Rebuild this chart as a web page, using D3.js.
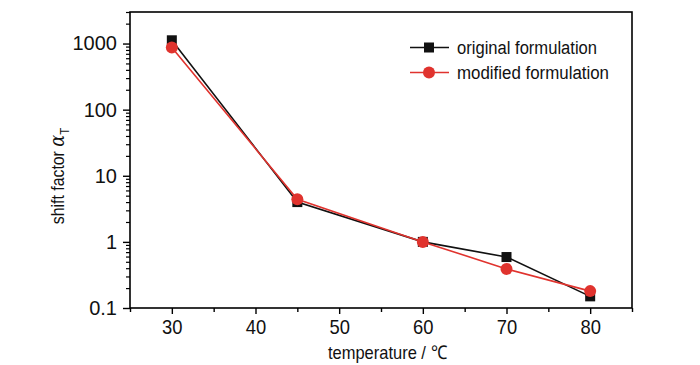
<!DOCTYPE html>
<html><head><meta charset="utf-8">
<script src="https://cdn.jsdelivr.net/npm/d3@7"></script>
<style>body{margin:0;background:#fff}svg{display:block;font-family:"Liberation Sans",Arial,sans-serif}</style>
</head><body><svg id="c" width="700" height="365"></svg>
<script>
const temperatures = [30, 45, 60, 70, 80];
const originalValues = [1120, 4.0, 1.0, 0.59, 0.15];
const modifiedValues = [870, 4.4, 1.0, 0.39, 0.18];
const xTicks = [30, 40, 50, 60, 70, 80];
const yTicks = [0.1, 1, 10, 100, 1000];
const seriesNames = ["original formulation", "modified formulation"];

const svg = d3.select("#c");
const L = 130, R = 632, T = 12, B = 308;
const x = d3.scaleLinear().domain([25, 85]).range([L, R]);
const y = d3.scaleLog().domain([0.1, 3000]).range([B, T]);
const RED = "#e0332e", BLK = "#111";

// frame
svg.append("rect").attr("x", L).attr("y", T).attr("width", R - L).attr("height", B - T)
  .attr("fill", "none").attr("stroke", "#000").attr("stroke-width", 1.6);

// x axis
const xMinor = d3.range(25, 86, 5).filter(v => !xTicks.includes(v));
svg.append("g").attr("transform", `translate(0,${B})`)
  .call(d3.axisBottom(x).tickValues(xMinor).tickSize(4).tickFormat(""))
  .call(g => g.select(".domain").remove())
  .selectAll("line").attr("stroke-width", 1.4);
const gx = svg.append("g").attr("transform", `translate(0,${B})`)
  .call(d3.axisBottom(x).tickValues(xTicks).tickSize(6).tickPadding(6).tickFormat(d3.format("d")));
gx.select(".domain").remove();
gx.selectAll("line").attr("stroke-width", 1.4);
gx.selectAll("text").attr("font-size", 20).attr("fill", "#111").attr("font-family", "Liberation Sans, Arial")
  .attr("transform", "scale(0.92,1)");

// y axis
const yMinor = [];
for (let e = -1; e <= 3; e++) for (let m = 2; m <= 9; m++) { const v = m * Math.pow(10, e); if (v <= 3000) yMinor.push(v); }
svg.append("g").attr("transform", `translate(${L},0)`)
  .call(d3.axisLeft(y).tickValues(yMinor).tickSize(4).tickFormat(""))
  .call(g => g.select(".domain").remove())
  .selectAll("line").attr("stroke-width", 1.2);
const gy = svg.append("g").attr("transform", `translate(${L},0)`)
  .call(d3.axisLeft(y).tickValues(yTicks).tickSize(7).tickPadding(6).tickFormat(d => d < 1 ? "0.1" : d3.format("d")(d)));
gy.select(".domain").remove();
gy.selectAll("line").attr("stroke-width", 1.4);
gy.selectAll("text").attr("font-size", 20).attr("fill", "#111").attr("font-family", "Liberation Sans, Arial");

// axis titles
svg.append("text").attr("x", 328).attr("y", 359)
  .attr("font-size", 19).attr("fill", "#111")
  .attr("textLength", 119).attr("lengthAdjust", "spacingAndGlyphs").text("temperature / ℃");
const yt = svg.append("text").attr("transform", "translate(64,176) rotate(-90) scale(0.88,1)")
  .attr("text-anchor", "middle").attr("font-size", 18).attr("fill", "#111");
yt.append("tspan").text("shift factor ");
yt.append("tspan").attr("font-style", "italic").attr("font-family", "DejaVu Serif, serif").attr("font-size", 20).text("α");
yt.append("tspan").attr("font-size", 13).attr("dy", 5).text("T");

// series
const line = d3.line().x((d, i) => x(temperatures[i])).y(d => y(d));
svg.append("path").datum(originalValues).attr("d", line).attr("fill", "none").attr("stroke", BLK).attr("stroke-width", 1.6);
svg.append("g").selectAll("rect").data(originalValues).join("rect")
  .attr("x", (d, i) => x(temperatures[i]) - 5).attr("y", d => y(d) - 5)
  .attr("width", 10).attr("height", 10).attr("fill", BLK);
svg.append("path").datum(modifiedValues).attr("d", line).attr("fill", "none").attr("stroke", RED).attr("stroke-width", 1.6);
svg.append("g").selectAll("circle").data(modifiedValues).join("circle")
  .attr("cx", (d, i) => x(temperatures[i])).attr("cy", d => y(d)).attr("r", 6).attr("fill", RED);

// legend
const leg = svg.append("g");
seriesNames.forEach((name, i) => {
  const ly = 47.5 + i * 25;
  const col = i === 0 ? BLK : RED;
  leg.append("line").attr("x1", 410).attr("x2", 449).attr("y1", ly).attr("y2", ly).attr("stroke", col).attr("stroke-width", 1.6);
  if (i === 0) leg.append("rect").attr("x", 424).attr("y", ly - 5).attr("width", 10).attr("height", 10).attr("fill", col);
  else leg.append("circle").attr("cx", 429).attr("cy", ly).attr("r", 6).attr("fill", col);
  leg.append("text").attr("x", 457).attr("y", ly + 6.5).attr("font-size", 18).attr("fill", "#111")
    .attr("textLength", i === 0 ? 140 : 152).attr("lengthAdjust", "spacingAndGlyphs").text(name);
});
</script></body></html>
